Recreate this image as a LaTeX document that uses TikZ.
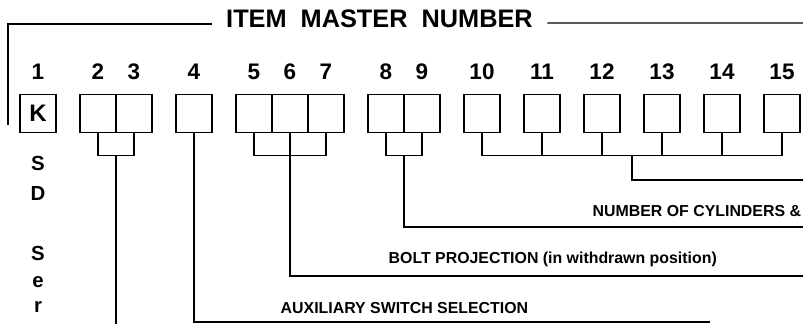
\documentclass[tikz,border=0pt]{standalone}
\usepackage{fontspec}
\setmainfont{Liberation Sans}

\begin{document}
\begin{tikzpicture}[x=0.025cm, y=-0.025cm, line width=1pt]
  \tikzset{
    digit_box/.style={draw, line width=1pt, minimum width=0.9cm, minimum height=0.95cm, inner sep=0pt},
    digit_label/.style={font=\fontsize{16}{18}\selectfont\bfseries, anchor=base, inner sep=0pt},
    field_label/.style={font=\fontsize{11.3}{13}\selectfont\bfseries, anchor=base west, inner sep=0pt},
    series_letter/.style={font=\fontsize{14.5}{16}\selectfont\bfseries, anchor=base, inner sep=0pt}
  }

  % Bounding box para fijar las proporciones
  \useasboundingbox (0,0) rectangle (803,324);

  % Titulo con el marco
  \node[font=\fontsize{18}{20}\selectfont\bfseries, inner xsep=0.35cm, inner ysep=0pt] (title) at (379.5,19) {ITEM\ \ MASTER\ \ NUMBER};
  \coordinate (frame_left) at (8,125);
  \coordinate (frame_right) at (803,23);
  \draw (frame_left) |- ([yshift=-0.12cm]title.west);
  \draw ([yshift=-0.1cm]title.east) -- (frame_right);

  % Casillas y numeros de posicion
  \node[digit_box, font=\fontsize{17}{19}\selectfont\bfseries] (b1) at (38,113.5) {K};
  \foreach \i/\x in {2/98, 3/134, 4/194, 5/254, 6/290, 7/326, 8/386, 9/422,
                     10/482, 11/542, 12/602, 13/662, 14/722, 15/782} {
    \node[digit_box] (b\i) at (\x,113.5) {};
  }
  \foreach \i/\x in {1/38, 2/98, 3/134, 4/194, 5/254, 6/290, 7/326, 8/386, 9/422,
                     10/482, 11/542, 12/602, 13/662, 14/722, 15/782} {
    \node[digit_label] (n\i) at (\x,79) {\i};
  }

  % Letras verticales bajo la casilla 1
  \foreach \c/\y in {S/170, D/200, S/260, e/287, r/312} {
    \node[series_letter] (series_\y) at (38,\y) {\c};
  }

  % Posiciones 2 y 3
  \draw (b2.south) -- ++(0,22) -| (b3.south);
  \coordinate (j23) at (116,155);
  \coordinate (end23) at (116,324);
  \draw (j23) -- (end23);

  % Posicion 4
  \coordinate (end4) at (710,322);
  \draw (b4.south) |- (end4);
  \node[field_label] (aux_label) at (280,313) {AUXILIARY SWITCH SELECTION};

  % Posiciones 5, 6 y 7
  \draw (b5.south) -- ++(0,22) -| (b7.south);
  \coordinate (end567) at (803,276);
  \draw (b6.south) |- (end567);
  \node[field_label] (bolt_label) at (388,263) {BOLT PROJECTION (in withdrawn position)};

  % Posiciones 8 y 9
  \draw (b8.south) -- ++(0,22) -| (b9.south);
  \coordinate (j89) at (404,155);
  \coordinate (end89) at (803,227);
  \draw (j89) |- (end89);
  \node[field_label] (cyl_label) at (592,216) {NUMBER OF CYLINDERS \&};

  % Posiciones 10 a 15
  \draw (b10.south) -- ++(0,22) -| (b15.south);
  \foreach \i in {11,...,14} \draw (b\i.south) -- ++(0,22);
  \coordinate (j1015) at (632,155);
  \coordinate (end1015) at (803,180);
  \draw (j1015) |- (end1015);
\end{tikzpicture}
\end{document}
